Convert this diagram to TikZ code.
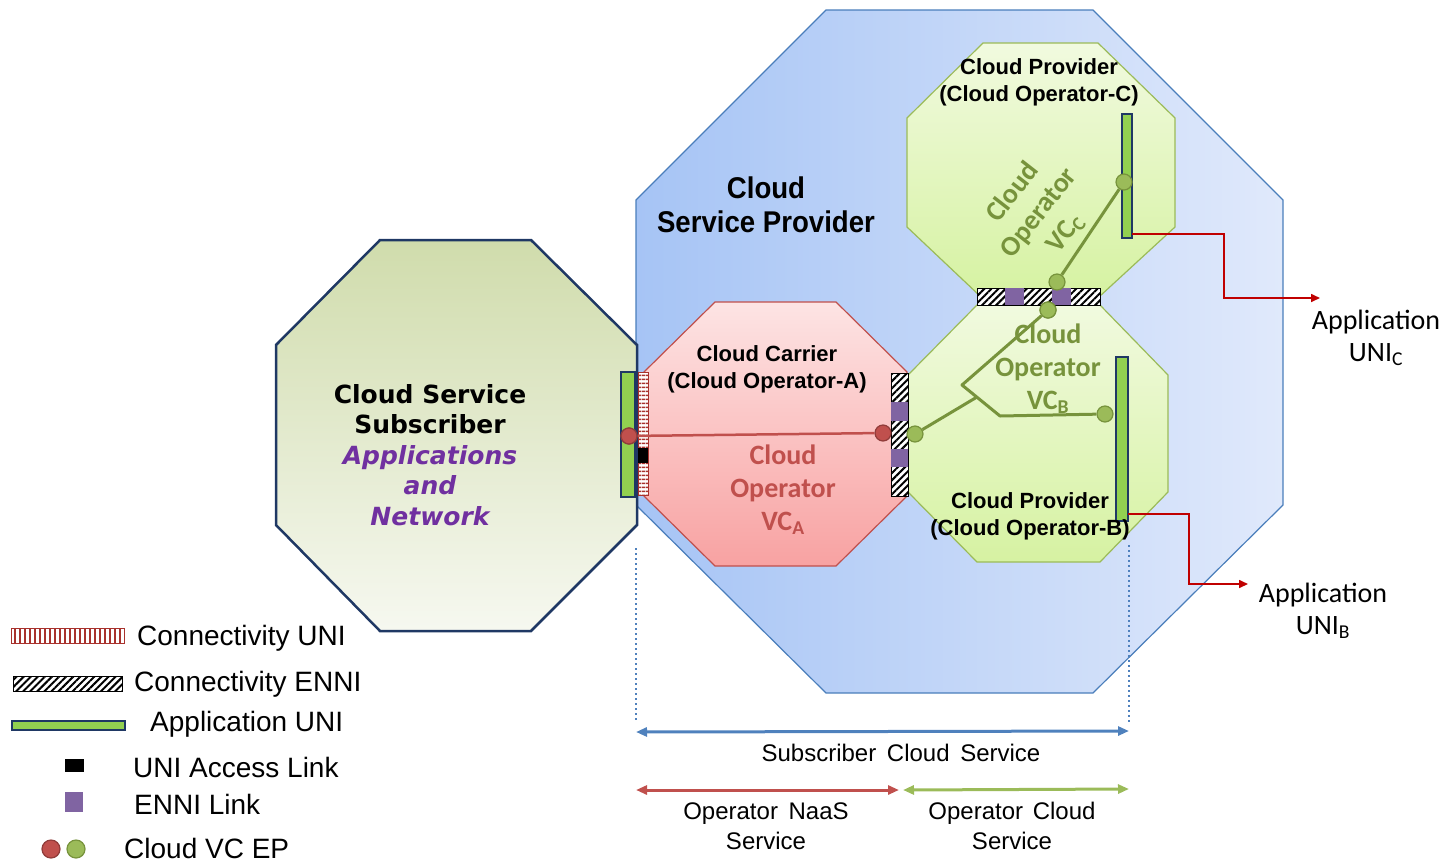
\documentclass[tikz,border=0pt]{standalone}
\usepackage{fontspec}
\setmainfont{Liberation Sans}
\newfontfamily\verdfont{DejaVu Sans}
\newfontfamily\califont{Carlito}
\newfontfamily\condfont[FakeStretch=0.92]{Liberation Sans}
\usetikzlibrary{arrows.meta,patterns.meta}

\definecolor{cspblueL}{HTML}{A6C4F5}
\definecolor{cspblueR}{HTML}{E0E9FB}
\definecolor{cspline}{HTML}{4A7EBB}
\definecolor{subtop}{HTML}{D0DCAC}
\definecolor{subbot}{HTML}{F6F8F0}
\definecolor{navyline}{HTML}{1F3864}
\definecolor{pinktop}{HTML}{FDE4E4}
\definecolor{pinkbot}{HTML}{F8A2A2}
\definecolor{pinkline}{HTML}{C0504D}
\definecolor{limetop}{HTML}{F1FADF}
\definecolor{limebot}{HTML}{D6F2A2}
\definecolor{limeline}{HTML}{9BBB59}
\definecolor{appgreen}{HTML}{92D050}
\definecolor{unired}{HTML}{A8322D}
\definecolor{enniviolet}{HTML}{8064A2}
\definecolor{vcolive}{HTML}{77933C}
\definecolor{dotred}{HTML}{C0504D}
\definecolor{dotgreen}{HTML}{9BBB59}
\definecolor{subpurple}{HTML}{7030A0}
\definecolor{arrred}{HTML}{C00000}
\definecolor{svcblue}{HTML}{4F81BD}

\begin{document}
\begin{tikzpicture}[x=1pt,y=-1pt, every node/.style={font=\fontsize{28}{34}\selectfont},
  bar/.style={inner sep=0pt,outer sep=0pt},
  appuni/.style={bar,draw=navyline,fill=appgreen,line width=1.6pt},
  conuni/.style={bar,draw=unired,line width=1pt,preaction={fill=white},pattern={Lines[angle=0,distance=4pt,line width=2pt]},pattern color=unired},
  conenni/.style={bar,draw=black,line width=1pt,preaction={fill=white},pattern={Lines[angle=45,distance=5pt,line width=2pt]},pattern color=black},
  ennilink/.style={bar,fill=enniviolet},
  accesslink/.style={bar,fill=black},
  vcep/.style={circle,inner sep=0pt,minimum size=16pt,line width=1.2pt},
  redep/.style={vcep,fill=dotred,draw=dotred!75!black},
  greenep/.style={vcep,fill=dotgreen,draw=vcolive},
  optitle/.style={align=center,font=\bfseries\fontsize{22}{27}\selectfont},
  vctext/.style={align=center,font=\califont\bfseries\fontsize{28}{33}\selectfont},
  redvc/.style={draw=dotred,line width=2.5pt},
  greenvc/.style={draw=vcolive,line width=3pt},
  apparr/.style={draw=arrred,line width=1.6pt,-{Triangle[length=9pt,width=8pt]}},
  svcspan/.style={line width=3pt,{Triangle[length=11pt,width=9pt]}-{Triangle[length=11pt,width=9pt]}},
  guide/.style={draw=svcblue,line width=2.5pt,dash pattern=on 2pt off 3pt},
  legend/.style={anchor=west,inner sep=0pt,font=\fontsize{28}{34}\selectfont}]
\useasboundingbox (0,0) rectangle (1449,863);

% cloud service provider and subscriber
\path[draw=cspline,line width=1.2pt,left color=cspblueL,right color=cspblueR]
  (826,10) -- (1093,10) -- (1283,200) -- (1283,505) -- (1093,693) -- (826,693) -- (636,505) -- (636,200) -- cycle;
\path[draw=navyline,line width=2.5pt,top color=subtop,bottom color=subbot]
  (380,240) -- (531,240) -- (637,345) -- (637,525) -- (531,631) -- (380,631) -- (276,525) -- (276,345) -- cycle;

% operators A, B, C
\path[draw=pinkline,line width=1.2pt,top color=pinktop,bottom color=pinkbot]
  (715,302) -- (836,302) -- (907,372) -- (907,496) -- (836,566) -- (715,566) -- (644,496) -- (644,372) -- cycle;
\path[draw=limeline,line width=1.2pt,top color=limetop,bottom color=limebot]
  (977,305) -- (1100,305) -- (1168,375) -- (1168,492) -- (1100,562) -- (977,562) -- (908,492) -- (908,375) -- cycle;
\path[draw=limeline,line width=1.2pt,top color=limetop,bottom color=limebot]
  (983,43) -- (1098,43) -- (1175,118) -- (1175,227) -- (1100,296) -- (980,296) -- (907,227) -- (907,118) -- cycle;

\node[font=\condfont\bfseries\fontsize{30}{34}\selectfont,align=center] (csp) at (766,205) {Cloud\\Service Provider};
\node[align=center,font=\verdfont\bfseries\fontsize{25}{30.5}\selectfont] (subs) at (430,455)
  {Cloud Service\\Subscriber\\\textcolor{subpurple}{\itshape Applications}\\\textcolor{subpurple}{\itshape and}\\\textcolor{subpurple}{\itshape Network}};
\node[optitle] (opa) at (767,369) {Cloud Carrier\\(Cloud Operator-A)};
\node[optitle] (opc) at (1039,82) {Cloud Provider\\(Cloud Operator-C)};
\node[vctext,text=dotred] (vca) at (783,490) {Cloud\\Operator\\VC\textsubscript{A}};
\node[vctext,text=vcolive] (vcb) at (1048,369) {Cloud\\Operator\\VC\textsubscript{B}};
\node[vctext,text=vcolive,rotate=52] (vcc) at (1039,213) {Cloud\\Operator\\VC\textsubscript{C}};

% interfaces
\node[appuni,minimum width=14pt,minimum height=125pt] (subuni) at (628,434.5) {};
\node[conuni,minimum width=10pt,minimum height=123pt] (cuniA) at (643,433.5) {};
\node[accesslink,minimum width=10pt,minimum height=15pt] (acc) at (643,455.5) {};
\node[conenni,minimum width=17pt,minimum height=123pt] (enniAB) at (899.5,434.5) {};
\node[ennilink,minimum width=17pt,minimum height=19pt] (elAB1) at (899.5,411.5) {};
\node[ennilink,minimum width=17pt,minimum height=18pt] (elAB2) at (899.5,458) {};
\node[conenni,minimum width=123pt,minimum height=17pt] (enniBC) at (1038.5,296.5) {};
\node[ennilink,minimum width=19pt,minimum height=17pt] (elBC1) at (1014.5,296.5) {};
\node[ennilink,minimum width=19pt,minimum height=17pt] (elBC2) at (1061.5,296.5) {};
\node[appuni,minimum width=10pt,minimum height=124pt] (uniC) at (1127,176) {};
\node[appuni,minimum width=12pt,minimum height=164pt] (uniB) at (1122,439) {};

\node[optitle] (opb) at (1030,516) {Cloud Provider\\(Cloud Operator-B)};

% virtual connections
\node[redep] (ra) at (629,436) {};
\node[redep] (rb) at (883,433) {};
\node[greenep] (gbl) at (915,434) {};
\node[greenep] (gbt) at (1048,310) {};
\node[greenep] (gbr) at (1105,414) {};
\node[greenep] (gct) at (1057,282) {};
\node[greenep] (gcr) at (1124,182) {};
\coordinate (bk1) at (962,385);
\coordinate (bk2) at (1000,416);
\coordinate (bj) at (977,397);
\draw[redvc] (ra) -- (rb);
\draw[greenvc,line join=round] (gbt) -- (bk1) -- (bk2) -- (gbr);
\draw[greenvc] (gbl) -- (bj);
\draw[greenvc] (gct) -- (gcr);
\node[redep] at (ra) {};
\node[greenep] at (gbt) {};

% application UNIs
\coordinate (cin) at (1320,298);
\coordinate (bin) at (1248,584);
\draw[apparr] ([yshift=4pt]uniC.south east) -- ++(92,0) |- (cin);
\draw[apparr] ([yshift=7pt]uniB.south east) -- ++(61,0) |- (bin);
\node[align=center,font=\califont\fontsize{28}{32}\selectfont] (appc) at (1376,338) {Application\\UNI\textsubscript{C}};
\node[align=center,font=\califont\fontsize{28}{32}\selectfont] (appb) at (1323,611) {Application\\UNI\textsubscript{B}};

% service spans
\coordinate (dl1) at (636,548);
\coordinate (dl2) at (636,722);
\coordinate (dr1) at (1129,545);
\coordinate (dr2) at (1129,722);
\draw[guide] (dl1) -- (dl2);
\draw[guide] (dr1) -- (dr2);
\coordinate (sl) at (636,732);
\coordinate (sr) at (1129,731);
\coordinate (nl) at (636,790);
\coordinate (nr) at (899,790);
\coordinate (cl) at (903,790);
\coordinate (cr) at (1129,789);
\draw[svcspan,draw=svcblue,fill=svcblue] (sl) -- (sr);
\draw[svcspan,draw=dotred,fill=dotred] (nl) -- (nr);
\draw[svcspan,draw=dotgreen,fill=dotgreen] (cl) -- (cr);
\node[font=\fontsize{24}{30}\selectfont] (scs) at (901,753) {Subscriber\hspace{4pt} Cloud\hspace{4pt} Service};
\node[align=center,font=\fontsize{24}{30}\selectfont] (naas) at (766,826) {Operator\hspace{4pt} NaaS\\Service};
\node[align=center,font=\fontsize{24}{30}\selectfont] (ocs) at (1012,826) {Operator\hspace{3pt} Cloud\\Service};

% legend
\node[conuni,minimum width=113pt,minimum height=15pt,pattern={Lines[angle=90,distance=5pt,line width=2.2pt]}] (lgcu) at (67.5,635.5) {};
\node[conenni,minimum width=109pt,minimum height=15pt] (lgce) at (67.5,683.5) {};
\node[appuni,minimum width=113pt,minimum height=9pt] (lgau) at (68.5,725.5) {};
\node[accesslink,minimum width=19pt,minimum height=13pt] (lgacc) at (74.5,765.5) {};
\node[ennilink,minimum width=18pt,minimum height=20pt] (lgel) at (74,802) {};
\node[redep,minimum size=18pt] (lgrd) at (51,849) {};
\node[greenep,minimum size=18pt] (lggd) at (76,849) {};
\node[legend] (tcu) at (137,638) {Connectivity UNI};
\node[legend] (tce) at (134,684) {Connectivity ENNI};
\node[legend] (tau) at (150,724) {Application UNI};
\node[legend] (tacc) at (133,767) {UNI Access Link};
\node[legend] (tel) at (134,804) {ENNI Link};
\node[legend] (tep) at (124,848) {Cloud VC EP};
\end{tikzpicture}
\end{document}
